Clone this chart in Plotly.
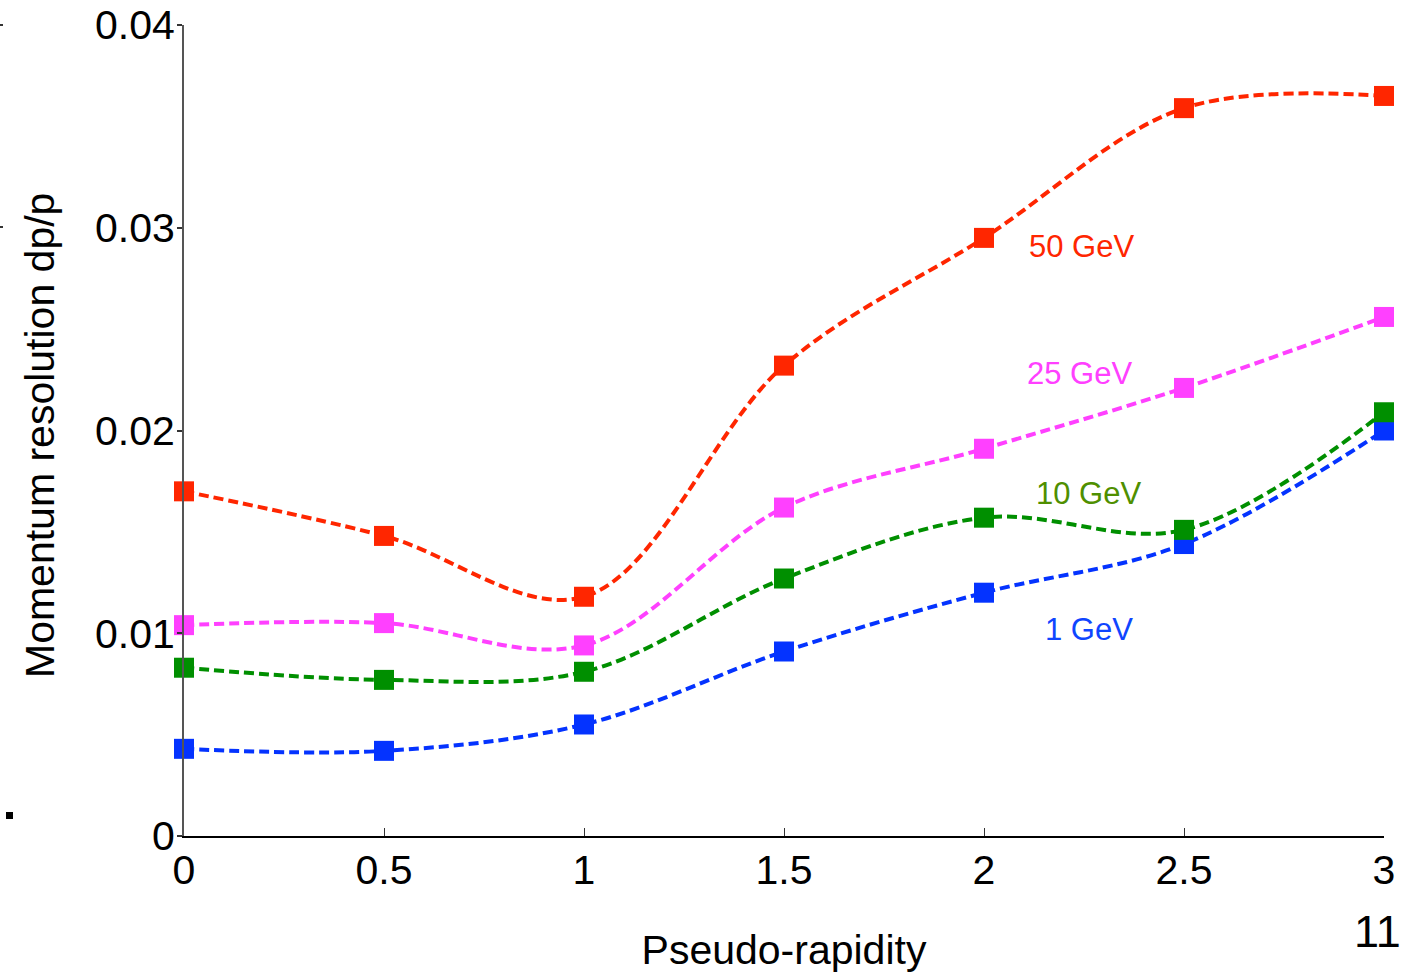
import plotly.graph_objects as go

eta = [0, 0.5, 1, 1.5, 2, 2.5, 3]
res_50 = [0.0170, 0.0148, 0.0118, 0.0232, 0.0295, 0.0359, 0.0365]
res_25 = [0.0104, 0.0105, 0.0094, 0.0162, 0.0191, 0.0221, 0.0256]
res_10 = [0.0083, 0.0077, 0.0081, 0.0127, 0.0157, 0.0151, 0.0209]
res_1 = [0.0043, 0.0042, 0.0055, 0.0091, 0.0120, 0.0144, 0.0200]

series = [
    ("50 GeV", res_50, "#FF2600", "#FF2600", 2.2425, 0.0291),
    ("25 GeV", res_25, "#FF40FF", "#FF40FF", 2.2375, 0.0228),
    ("10 GeV", res_10, "#008F00", "#4F8F00", 2.26, 0.0169),
    ("1 GeV", res_1, "#0433FF", "#0F45FF", 2.2625, 0.0102),
]

x_ticks = [0, 0.5, 1, 1.5, 2, 2.5, 3]
x_ticktext = ["0", "0.5", "1", "1.5", "2", "2.5", "3"]
y_ticks = [0, 0.01, 0.02, 0.03, 0.04]
y_ticktext = ["0", "0.01", "0.02", "0.03", "0.04"]

fig = go.Figure()
for name, vals, col, _, _, _ in reversed(series):
    fig.add_trace(go.Scatter(
        x=eta, y=vals, mode="lines+markers", name=name,
        line=dict(color=col, width=4, dash="10px,5px", shape="spline", smoothing=1),
        marker=dict(symbol="square", size=20, color=col),
        cliponaxis=False, showlegend=False,
    ))

annotations = []
for name, vals, col, tcol, ax, ay in series:
    annotations.append(dict(x=ax, y=ay, xref="x", yref="y", text=name,
                            showarrow=False, font=dict(color=tcol, size=31),
                            xanchor="center", yanchor="middle"))

# y-axis title as rotated annotation
annotations.append(dict(x=(40 - 184) / 1200, y=(836 - 436) / 811, xref="paper", yref="paper",
                        text="Momentum resolution dp/p", showarrow=False, textangle=-90,
                        font=dict(size=41, color="black"), xanchor="center", yanchor="middle"))

# page number
annotations.append(dict(x=(1377 - 184) / 1200, y=(836 - 931) / 811, xref="paper", yref="paper",
                        text="11", showarrow=False, font=dict(size=45, color="black"),
                        xanchor="center", yanchor="middle"))

shapes = [
    dict(type="rect", xref="paper", yref="paper",
         x0=(6 - 184) / 1200, x1=(13 - 184) / 1200,
         y0=(836 - 812) / 811, y1=(836 - 819) / 811,
         fillcolor="black", line=dict(width=0)),
    dict(type="line", xref="paper", yref="paper",
         x0=(0 - 184) / 1200, x1=(3 - 184) / 1200,
         y0=(836 - 25) / 811, y1=(836 - 25) / 811,
         line=dict(color="#333", width=2)),
    dict(type="line", xref="paper", yref="paper",
         x0=(0 - 184) / 1200, x1=(3 - 184) / 1200,
         y0=(836 - 227) / 811, y1=(836 - 227) / 811,
         line=dict(color="#333", width=2)),
]

fig.update_layout(
    width=1422, height=973,
    margin=dict(l=184, r=38, t=25, b=137, autoexpand=False),
    paper_bgcolor="white", plot_bgcolor="white",
    font=dict(family="Liberation Sans, Arial, sans-serif", color="black"),
    annotations=annotations, shapes=shapes,
    xaxis=dict(
        range=[0, 3], tickvals=x_ticks, ticktext=x_ticktext, automargin=False,
        showgrid=False, zeroline=False, showline=True, linecolor="black", linewidth=2,
        ticks="inside", ticklen=8, tickwidth=1, tickcolor="#333",
        ticklabelstandoff=-3,
        tickfont=dict(size=41),
        title=dict(text="Pseudo-rapidity", font=dict(size=41), standoff=48),
    ),
    yaxis=dict(
        range=[0, 0.04], tickvals=y_ticks, ticktext=y_ticktext, automargin=False,
        showgrid=False, zeroline=False, showline=True, linecolor="#555", linewidth=2,
        ticks="outside", ticklen=5, tickwidth=2, tickcolor="#333",
        ticklabelstandoff=-6,
        tickfont=dict(size=41),
    ),
)

fig.write_html("out.html")
